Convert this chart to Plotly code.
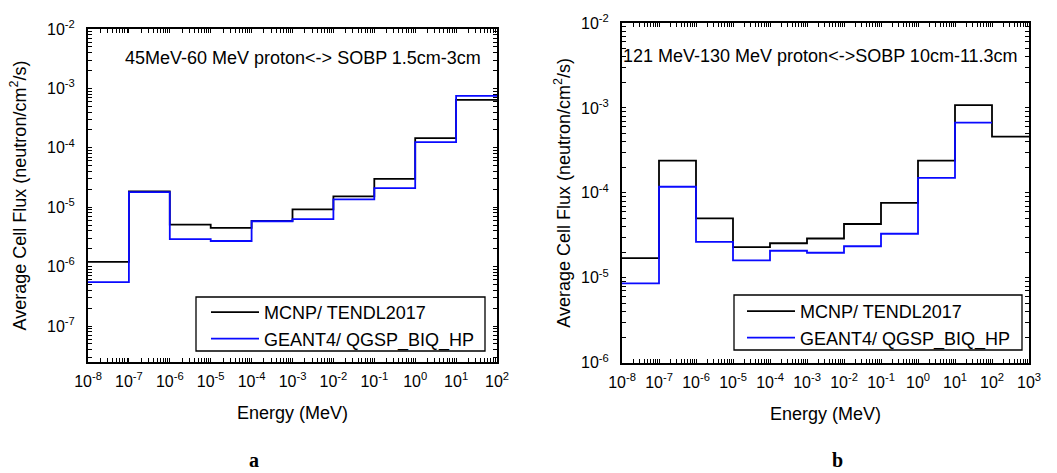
import plotly.graph_objects as go

# ---------------- data ----------------
edges_a = [1e-8, 1e-7, 1e-6, 1e-5, 1e-4, 1e-3, 1e-2, 1e-1, 1e0, 1e1, 1e2]
mcnp_a = [1.2e-6, 1.85e-5, 5.1e-6, 4.5e-6, 5.9e-6, 9.2e-6, 1.52e-5, 3.0e-5, 1.45e-4, 6.4e-4]
geant_a = [5.5e-7, 1.8e-5, 2.9e-6, 2.7e-6, 5.8e-6, 6.3e-6, 1.35e-5, 2.1e-5, 1.25e-4, 7.5e-4]

edges_b = [1e-8, 1e-7, 1e-6, 1e-5, 1e-4, 1e-3, 1e-2, 1e-1, 1e0, 1e1, 1e2, 1e3]
mcnp_b = [1.7e-5, 2.4e-4, 5.0e-5, 2.3e-5, 2.55e-5, 2.9e-5, 4.3e-5, 7.6e-5, 2.4e-4, 1.08e-3, 4.6e-4]
geant_b = [8.6e-6, 1.18e-4, 2.65e-5, 1.6e-5, 2.08e-5, 1.97e-5, 2.35e-5, 3.3e-5, 1.5e-4, 6.7e-4]

x_exp_a = list(range(-8, 3))
x_exp_b = list(range(-8, 4))
y_exp_a = list(range(-7, -1))
y_exp_b = list(range(-6, -1))

label_a = "45MeV-60 MeV proton<-> SOBP 1.5cm-3cm"
label_b = "121 MeV-130 MeV proton<->SOBP 10cm-11.3cm"
name_mcnp = "MCNP/ TENDL2017"
name_geant = "GEANT4/ QGSP_BIQ_HP"
xtitle = "Energy (MeV)"
ytitle = "Average Cell Flux (neutron/cm<sup>2</sup>/s)"

FONT = "Liberation Sans, Arial, sans-serif"
SERIF = "Liberation Serif, Times New Roman, serif"
BLACK = "#000000"
BLUE = "#0a0aff"


def step(edges, vals):
    n = len(vals)
    return edges[: n + 1], list(vals) + [vals[-1]]


def all_ticks(lo, hi):
    """tick values for every 1..9 x 10^e, labelled only at decades."""
    vals, txt = [], []
    for e in range(lo, hi + 1):
        for m in range(1, 10):
            if e == hi and m > 1:
                break
            vals.append(m * 10.0 ** e)
            txt.append("10<sup>%d</sup>" % e if m == 1 else "")
    return vals, txt


def decade_vals(exps):
    return [10.0 ** e for e in exps]


fig = go.Figure()

for (edges, vals, name, color, xa, ya, leg) in [
    (edges_a, mcnp_a, name_mcnp, BLACK, "x", "y", "legend"),
    (edges_a, geant_a, name_geant, BLUE, "x", "y", "legend"),
    (edges_b, mcnp_b, name_mcnp, BLACK, "x2", "y2", "legend2"),
    (edges_b, geant_b, name_geant, BLUE, "x2", "y2", "legend2"),
]:
    xs, ys = step(edges, vals)
    fig.add_trace(go.Scatter(
        x=xs, y=ys, mode="lines", name=name,
        line=dict(color=color, width=1.8, shape="hv"),
        xaxis=xa, yaxis=ya, legend=leg,
    ))

W, H = 1057, 473


def px_x(p):
    return p / W


def px_y(p):
    return 1 - p / H


main_common = dict(
    type="log", showgrid=False, zeroline=False,
    showline=True, linecolor="black", linewidth=2, mirror="allticks",
    ticks="inside", ticklen=4, tickwidth=1.2, tickcolor="black",
    tickfont=dict(family=FONT, size=16, color="black"),
    automargin=False,
)

major_common = dict(
    type="log", visible=True, showgrid=False, zeroline=False, showline=False,
    mirror="allticks", ticks="inside", ticklen=7, tickwidth=1.6, tickcolor="black",
    showticklabels=False, automargin=False,
)

XA_DOM = [px_x(88), px_x(497)]
YA_DOM = [px_y(362), px_y(29)]
XB_DOM = [px_x(622), px_x(1029)]
YB_DOM = [px_y(362.7), px_y(23)]
XA_RNG, YA_RNG = [-8, 2], [-7.606, -2]
XB_RNG, YB_RNG = [-8, 3], [-6, -2]

xa_v, xa_t = all_ticks(-8, 2)
ya_v, ya_t = all_ticks(-8, -2)
xb_v, xb_t = all_ticks(-8, 3)
yb_v, yb_t = all_ticks(-6, -2)

fig.update_layout(
    width=W, height=H,
    margin=dict(l=0, r=0, t=0, b=0),
    paper_bgcolor="white", plot_bgcolor="white",
    font=dict(family=FONT, color="black"),
    xaxis=dict(**main_common, domain=XA_DOM, range=XA_RNG,
               tickvals=xa_v, ticktext=xa_t,
               anchor="y", ticklabelstandoff=4,
               title=dict(text=xtitle, font=dict(size=18, family=FONT), standoff=17)),
    yaxis=dict(**main_common, domain=YA_DOM, range=YA_RNG,
               tickvals=ya_v, ticktext=ya_t,
               anchor="x", ticklabelstandoff=8,
               title=dict(text=ytitle, font=dict(size=18, family=FONT), standoff=16)),
    xaxis2=dict(**main_common, domain=XB_DOM, range=XB_RNG,
                tickvals=xb_v, ticktext=xb_t,
                anchor="y2", ticklabelstandoff=4,
                title=dict(text=xtitle, font=dict(size=18, family=FONT), standoff=17)),
    yaxis2=dict(**main_common, domain=YB_DOM, range=YB_RNG,
                tickvals=yb_v, ticktext=yb_t,
                anchor="x2", ticklabelstandoff=8,
                title=dict(text=ytitle, font=dict(size=18, family=FONT), standoff=6)),
    # longer decade ticks on overlay axes
    xaxis3=dict(**major_common, overlaying="x", anchor="y", domain=XA_DOM, range=XA_RNG,
                tickvals=decade_vals(x_exp_a)),
    yaxis3=dict(**major_common, overlaying="y", anchor="x", domain=YA_DOM, range=YA_RNG,
                tickvals=decade_vals(y_exp_a)),
    xaxis4=dict(**major_common, overlaying="x2", anchor="y2", domain=XB_DOM, range=XB_RNG,
                tickvals=decade_vals(x_exp_b)),
    yaxis4=dict(**major_common, overlaying="y2", anchor="x2", domain=YB_DOM, range=YB_RNG,
                tickvals=decade_vals(y_exp_b)),
    legend=dict(x=px_x(206), y=px_y(294), xanchor="left", yanchor="top",
                bgcolor="rgba(0,0,0,0)", borderwidth=0,
                font=dict(family=FONT, size=18, color="black"), itemwidth=48,
                tracegroupgap=0),
    legend2=dict(x=px_x(742), y=px_y(293), xanchor="left", yanchor="top",
                 bgcolor="rgba(0,0,0,0)", borderwidth=0,
                 font=dict(family=FONT, size=18, color="black"), itemwidth=48,
                 tracegroupgap=0),
    showlegend=True,
)

# legend frames
fig.add_shape(type="rect", xref="paper", yref="paper",
              x0=px_x(196), x1=px_x(485), y0=px_y(351), y1=px_y(297),
              line=dict(color="black", width=1.3), fillcolor="white", layer="above")
fig.add_shape(type="rect", xref="paper", yref="paper",
              x0=px_x(734), x1=px_x(1022), y0=px_y(350), y1=px_y(295),
              line=dict(color="black", width=1.3), fillcolor="white", layer="above")

fig.add_annotation(text=label_a, xref="paper", yref="paper", x=px_x(303), y=px_y(58),
                   xanchor="center", yanchor="middle",
                   showarrow=False, font=dict(family=FONT, size=18, color="black"))
fig.add_annotation(text=label_b, xref="paper", yref="paper", x=px_x(820), y=px_y(56),
                   xanchor="center", yanchor="middle",
                   showarrow=False, font=dict(family=FONT, size=18, color="black"))
fig.add_annotation(text="<b>a</b>", xref="paper", yref="paper", x=px_x(254), y=px_y(460),
                   xanchor="center", yanchor="middle",
                   showarrow=False, font=dict(family=SERIF, size=20, color="black"))
fig.add_annotation(text="<b>b</b>", xref="paper", yref="paper", x=px_x(837), y=px_y(460),
                   xanchor="center", yanchor="middle",
                   showarrow=False, font=dict(family=SERIF, size=20, color="black"))

fig.write_html("out.html")
